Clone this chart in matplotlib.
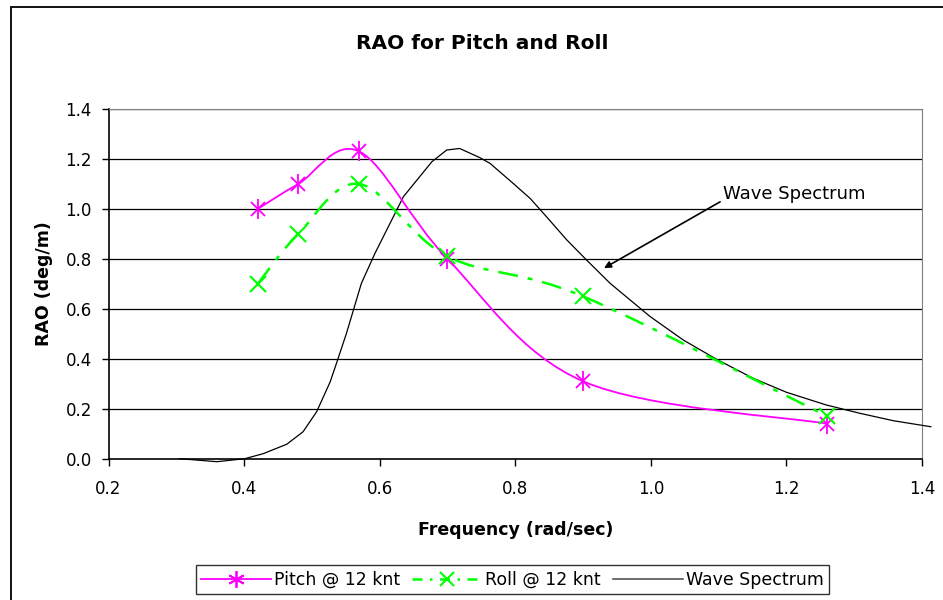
import matplotlib
matplotlib.use("Agg")
import matplotlib.pyplot as plt
import numpy as np
from matplotlib.path import Path
from matplotlib.patches import PathPatch, Rectangle
from matplotlib.lines import Line2D

plt.rcParams["font.family"] = ["DejaVu Sans"]

# data
freq = [0.42, 0.48, 0.57, 0.70, 0.90, 1.26]
pitch = [1.00, 1.10, 1.23, 0.80, 0.31, 0.14]
roll = [0.70, 0.90, 1.10, 0.81, 0.65, 0.17]

wave_freq = [0.305, 0.36, 0.401, 0.428, 0.463, 0.487, 0.507, 0.527, 0.537,
             0.551, 0.573, 0.593, 0.635, 0.677, 0.699, 0.718, 0.748, 0.763,
             0.777, 0.797, 0.822, 0.846, 0.876, 0.905, 0.940, 0.999, 1.048,
             1.097, 1.151, 1.200, 1.259, 1.308, 1.358, 1.413]
wave = [0.0, -0.012, 0.0, 0.02, 0.058, 0.108, 0.188, 0.308, 0.388,
        0.502, 0.702, 0.822, 1.049, 1.189, 1.236, 1.242, 1.205, 1.182,
        1.149, 1.102, 1.042, 0.969, 0.876, 0.796, 0.702, 0.569, 0.475,
        0.398, 0.322, 0.266, 0.215, 0.182, 0.152, 0.128]

x_ticks = [0.2, 0.4, 0.6, 0.8, 1.0, 1.2, 1.4]
y_ticks = [0.0, 0.2, 0.4, 0.6, 0.8, 1.0, 1.2, 1.4]

MAGENTA = "#FF00FF"
GREEN = "#00FF00"


def smooth_path(xs, ys):
    # Excel-style smoothed line: cubic bezier segments through each point
    p = np.column_stack([xs, ys])
    n = len(p)
    verts = [p[0]]
    codes = [Path.MOVETO]
    for i in range(n - 1):
        prev = p[i - 1] if i > 0 else p[i]
        nxt = p[i + 2] if i + 2 < n else p[i + 1]
        c1 = p[i] + (p[i + 1] - prev) / 6.0
        c2 = p[i + 1] - (nxt - p[i]) / 6.0
        verts += [c1, c2, p[i + 1]]
        codes += [Path.CURVE4] * 3
    return Path(verts, codes)


fig = plt.figure(figsize=(9.43, 6.0), dpi=100)
ax = fig.add_axes([0.1151, 0.2355, 0.8626, 0.5828])

# chart-area border
fig.patches.append(Rectangle((11 / 943, -0.1), 1.5, 1.1 - 7 / 600,
                             transform=fig.transFigure, fill=False,
                             edgecolor="black", linewidth=1.3, zorder=0))

ax.set_xlim(0.2, 1.4)
ax.set_ylim(0.0, 1.4)
ax.set_xticks(x_ticks)
ax.set_yticks(y_ticks)
ax.set_xticklabels([f"{v:.1f}" for v in x_ticks], fontsize=12)
ax.set_yticklabels([f"{v:.1f}" for v in y_ticks], fontsize=12)
ax.tick_params(direction="out", length=5, width=1)
ax.tick_params(axis="x", pad=10)
ax.tick_params(axis="y", pad=7)
for y in y_ticks[1:]:
    ax.axhline(y, color="black", linewidth=0.9, zorder=1)
for side in ["top", "right"]:
    ax.spines[side].set_color("#808080")
for side in ["left", "bottom"]:
    ax.spines[side].set_color("black")
    ax.spines[side].set_linewidth(1.2)

# wave spectrum
ax.plot(wave_freq, wave, color="black", linewidth=0.9, clip_on=False, zorder=3)

# pitch
ax.add_patch(PathPatch(smooth_path(freq, pitch), facecolor="none",
                       edgecolor=MAGENTA, linewidth=1.3, zorder=4))
ax.plot(freq, pitch, linestyle="none", marker="x", markersize=10,
        markeredgewidth=1.3, color=MAGENTA, zorder=5)
ax.plot(freq, pitch, linestyle="none", marker="|", markersize=14,
        markeredgewidth=1.3, color=MAGENTA, zorder=5)

# roll
ax.add_patch(PathPatch(smooth_path(freq, roll), facecolor="none",
                       edgecolor=GREEN, linewidth=1.8, linestyle=(0, (8, 4, 2, 4)),
                       zorder=4))
ax.plot(freq, roll, linestyle="none", marker="x", markersize=11,
        markeredgewidth=1.5, color=GREEN, zorder=5)

ax.annotate("Wave Spectrum", xy=(0.931, 0.763), xytext=(1.1063, 1.06),
            fontsize=13, va="center", ha="left",
            arrowprops=dict(arrowstyle="-|>", color="black", lw=1.2,
                            mutation_scale=10, shrinkA=0, shrinkB=0,
                            relpos=(0, 0.15)))

fig.text(0.511, 0.928, "RAO for Pitch and Roll", ha="center", va="center",
         fontsize=14.5, fontweight="bold")
ax.set_xlabel("Frequency (rad/sec)", fontsize=12.5, fontweight="bold", labelpad=17)
ax.set_ylabel("RAO (deg/m)", fontsize=12.5, fontweight="bold", labelpad=9)

handles = [
    Line2D([], [], color=MAGENTA, linewidth=1.3, marker=(6, 2, 0), markersize=12,
           markeredgewidth=1.3),
    Line2D([], [], color=GREEN, linewidth=1.8, linestyle=(0, (4, 3, 1, 3)),
           marker="x", markersize=10, markeredgewidth=1.5),
    Line2D([], [], color="#555555", linewidth=1.2),
]
leg = fig.legend(handles, ["Pitch @ 12 knt", "Roll @ 12 knt", "Wave Spectrum"],
                 loc="center", bbox_to_anchor=(0.5435, 0.034), ncol=3,
                 fontsize=12.5, frameon=True, fancybox=False, handlelength=4.0,
                 handletextpad=0.2, columnspacing=0.7, borderpad=0.3,
                 borderaxespad=0)
leg.get_frame().set_edgecolor("black")
leg.get_frame().set_linewidth(1.0)

fig.savefig("out.png", dpi=100)
